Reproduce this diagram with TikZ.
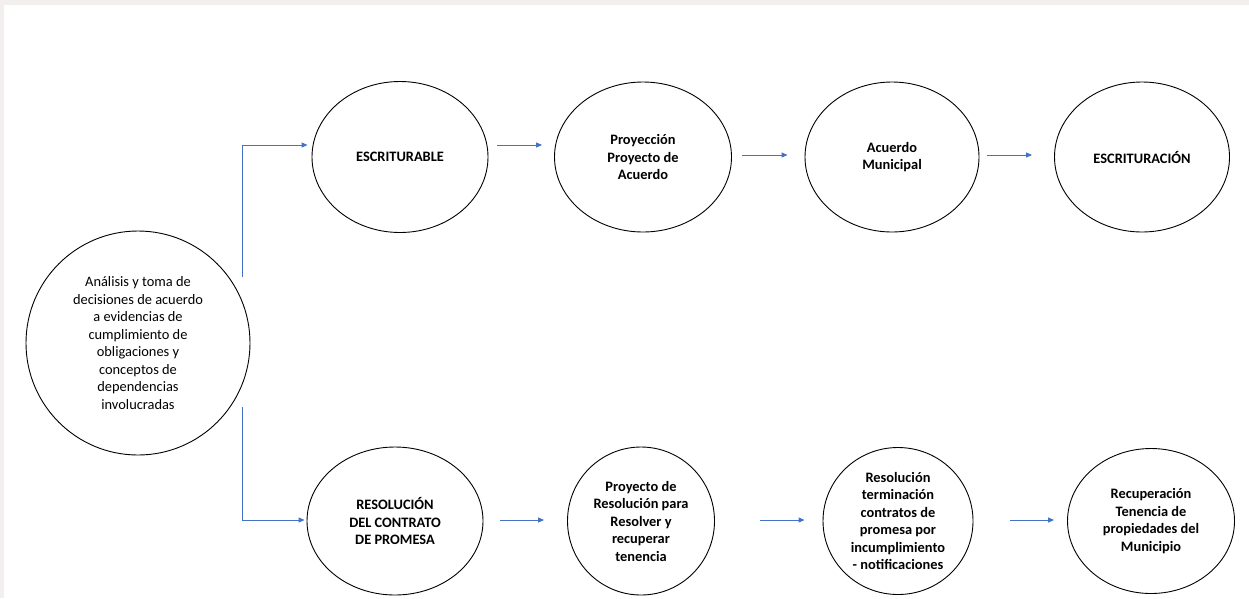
\documentclass[tikz,border=0pt]{standalone}
\usepackage{fontspec}
\setmainfont{Carlito}
\usetikzlibrary{shapes.geometric,arrows.meta}
\definecolor{arrblue}{HTML}{4472C4}
\definecolor{edgegray}{HTML}{F3EFEF}
\tikzset{
  bub/.style={ellipse, draw=black, line width=0.9pt, inner sep=0pt, align=center,
    font=\fontsize{14.4}{17.5}\selectfont\bfseries},
  arr/.style={draw=arrblue, line width=0.9pt, -{Triangle[length=6pt,width=5pt]}}
}
\begin{document}
\begin{tikzpicture}[x=1pt,y=-1pt]
\useasboundingbox (0,0) rectangle (1249,598);
\fill[edgegray] (0,0) rectangle (1249,5);
\fill[edgegray] (0,0) rectangle (4,598);

\node[bub, font=\fontsize{14.4}{17.5}\selectfont, minimum width=224pt, minimum height=224pt] (ana) at (138,343)
  {Análisis y toma de\\decisiones de acuerdo\\a evidencias de\\cumplimiento de\\obligaciones y\\conceptos de\\dependencias\\involucradas};

\node[bub, minimum width=176pt, minimum height=151pt] (esc) at (400,157) {ESCRITURABLE};
\node[bub, minimum width=177pt, minimum height=150pt] (proy) at (643,157) {Proyección\\Proyecto de\\Acuerdo};
\node[bub, minimum width=174pt, minimum height=150pt] (acu) at (892,157) {Acuerdo\\Municipal};
\node[bub, minimum width=175pt, minimum height=150pt] (escr) at (1142,157) {ESCRITURACIÓN};

\node[bub, minimum width=176pt, minimum height=148pt] (res) at (395,521) {RESOLUCIÓN\\DEL CONTRATO\\DE PROMESA};
\node[bub, minimum width=147pt, minimum height=148pt] (pres) at (641,521) {Proyecto de\\Resolución para\\Resolver y\\recuperar\\tenencia};
\node[bub, minimum width=150pt, minimum height=147pt] (term) at (898,521) {Resolución\\terminación\\contratos de\\promesa por\\incumplimiento\\- notificaciones};
\node[bub, minimum width=167pt, minimum height=145pt] (recu) at (1151,521) {Recuperación\\Tenencia de\\propiedades del\\Municipio};

\coordinate (t1) at (242,277);
\coordinate (b1) at (242,407);

\draw[arr] (t1) |- ([shift={(-4pt,12pt)}]esc.west);
\draw[arr] (b1) |- ([shift={(-2pt,1pt)}]res.west);

\draw[arr] ([shift={(9pt,12pt)}]esc.east) -- ([shift={(-12pt,12pt)}]proy.west);
\draw[arr] ([shift={(10pt,2pt)}]proy.east) -- ([shift={(-17pt,2pt)}]acu.west);
\draw[arr] ([shift={(8pt,2pt)}]acu.east) -- ([shift={(-22pt,2pt)}]escr.west);

\draw[arr] ([shift={(17pt,1pt)}]res.east) -- ([shift={(-23pt,1pt)}]pres.west);
\draw[arr] ([shift={(45pt,1pt)}]pres.east) -- ([shift={(-18pt,1pt)}]term.west);
\draw[arr] ([shift={(37pt,1pt)}]term.east) -- ([shift={(-13pt,1pt)}]recu.west);
\end{tikzpicture}
\end{document}
